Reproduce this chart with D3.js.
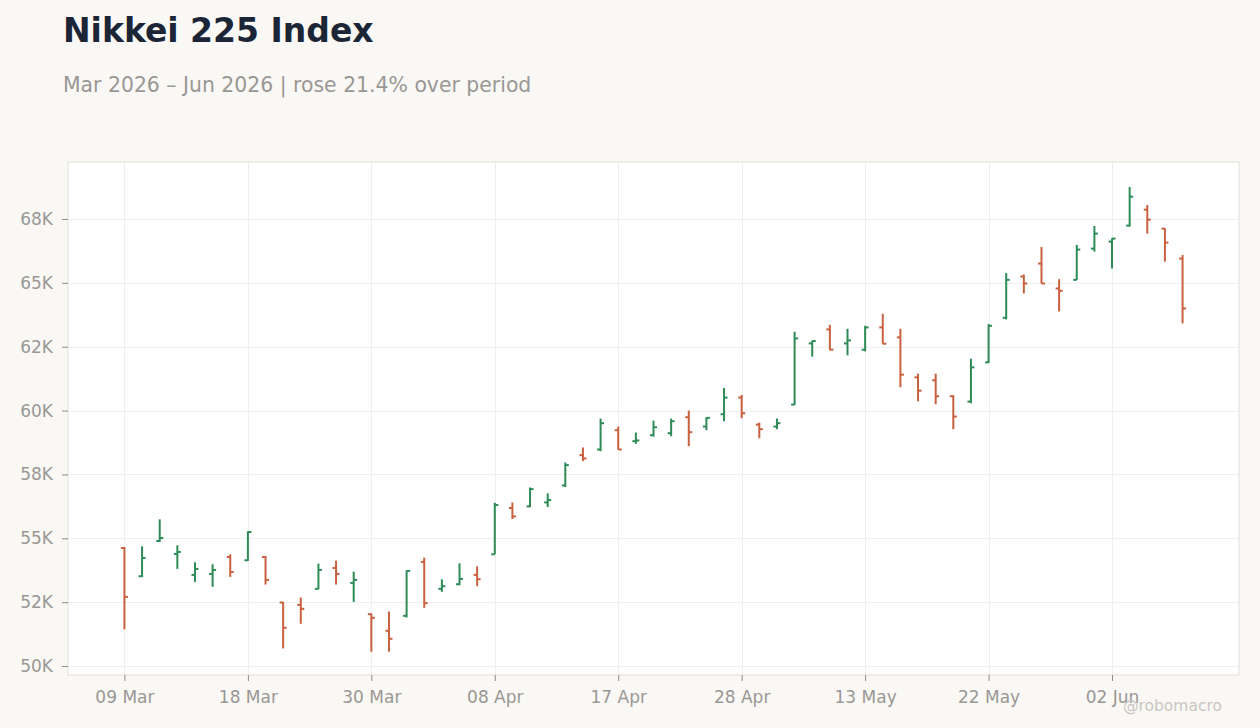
<!DOCTYPE html>
<html>
<head>
<meta charset="utf-8">
<script src="https://cdn.jsdelivr.net/npm/d3@7"></script>
<style>
  html, body { margin: 0; padding: 0; background: #f9f8f5; }
  svg { display: block; font-family: "DejaVu Sans", sans-serif; }
</style>
</head>
<body>
<svg id="chart" width="1260" height="728"></svg>
<script>
const dates = [
  "2026-03-09","2026-03-10","2026-03-11","2026-03-12","2026-03-13","2026-03-16","2026-03-17","2026-03-18",
  "2026-03-19","2026-03-23","2026-03-24","2026-03-25","2026-03-26","2026-03-27","2026-03-30","2026-03-31",
  "2026-04-01","2026-04-02","2026-04-03","2026-04-06","2026-04-07","2026-04-08","2026-04-09","2026-04-10",
  "2026-04-13","2026-04-14","2026-04-15","2026-04-16","2026-04-17","2026-04-20","2026-04-21","2026-04-22",
  "2026-04-23","2026-04-24","2026-04-27","2026-04-28","2026-04-30","2026-05-01","2026-05-07","2026-05-08",
  "2026-05-11","2026-05-12","2026-05-13","2026-05-14","2026-05-15","2026-05-18","2026-05-19","2026-05-20",
  "2026-05-21","2026-05-22","2026-05-25","2026-05-26","2026-05-27","2026-05-28","2026-05-29","2026-06-01",
  "2026-06-02","2026-06-03","2026-06-04","2026-06-05","2026-06-08"
];
const openV = [
  54620,53516,54896,54388,53568,53607,54271,54141,54271,52487,
  52396,53021,53841,53255,52031,51380,51966,54076,53021,53203,
  53568,54375,56185,56250,56406,57070,58255,58477,59232,58802,
  59036,59115,59740,59375,59857,60508,59453,59375,60234,62630,
  63177,62630,62383,63255,62865,61302,61185,60560,60352,61888,
  63633,65247,65755,64778,65117,66341,66615,67240,67865,67122,
  65950
];
const highV = [
  54660,54688,55742,54727,54063,53984,54375,55273,54310,52513,
  52682,54010,54128,53698,52057,52135,53750,54245,53398,54023,
  53906,56393,56406,56992,56758,57969,58555,59688,59375,59141,
  59609,59688,60000,59740,60885,60612,59531,59688,63086,62734,
  63359,63203,63320,63789,63203,61445,61445,60599,62031,63385,
  65391,65326,66406,65143,66484,67227,66745,68750,68047,67135,
  66094
];
const lowV = [
  51434,53490,54857,53802,53294,53099,53490,54115,53190,50690,
  51654,53008,53190,52513,50560,50560,51901,52279,52904,53164,
  53125,54375,55755,56224,56224,57005,58021,58411,58477,58698,
  58984,58997,58607,59232,59583,59701,58919,59271,60221,62109,
  62370,62161,62318,62617,60911,60365,60247,59271,60286,61862,
  63568,64583,64974,63880,65117,66224,65560,67200,66927,65833,
  63411
];
const closeV = [
  52707,54232,55013,54466,53802,53763,53685,55247,53372,51497,
  52240,53763,53607,53372,51888,51068,53724,52461,53125,53411,
  53398,56302,55859,56927,56497,57865,58125,59505,58477,58830,
  59349,59583,59154,59714,60508,59896,59271,59505,62826,62721,
  62383,62747,63255,62617,61406,60781,60560,59766,61693,63320,
  65117,64974,64974,64688,66302,66927,66732,68372,67474,66576,
  63997
];
const yTickValues = [50000, 52500, 55000, 57500, 60000, 62500, 65000, 67500];
const yTickLabels = ["50K", "52K", "55K", "58K", "60K", "62K", "65K", "68K"];
const xTickEvery = 7;

const titleText = "Nikkei 225 Index";
const pct = (closeV[closeV.length - 1] / closeV[0] - 1) * 100;
const subtitleText = "Mar 2026 \u2013 Jun 2026 | rose " + pct.toFixed(1) + "% over period";

const parse = d3.timeParse("%Y-%m-%d");
const fmt = d3.timeFormat("%d %b");
const bars = dates.map((d, i) => ({
  date: d, open: openV[i], high: highV[i], low: lowV[i], close: closeV[i]
}));

const W = 1260, H = 728;
const plot = { left: 68, right: 1239, top: 162, bottom: 675 };
const UP = "#2e8b57", DOWN = "#c9603f";

const svg = d3.select("#chart");
svg.append("rect").attr("width", W).attr("height", H).attr("fill", "#f9f8f5");

svg.append("text").attr("x", 63).attr("y", 42)
  .attr("font-size", 33).attr("font-weight", "bold").attr("fill", "#1b2535")
  .text(titleText);
svg.append("text").attr("x", 63).attr("y", 92)
  .attr("font-size", 20.4).attr("fill", "#9a9794")
  .text(subtitleText);

const x = d3.scalePoint().domain(dates).range([plot.left, plot.right]).padding(3.2);
const y = d3.scaleLinear().domain([49650, 69730]).range([plot.bottom, plot.top]);

svg.append("rect")
  .attr("x", plot.left).attr("y", plot.top)
  .attr("width", plot.right - plot.left).attr("height", plot.bottom - plot.top)
  .attr("fill", "#ffffff").attr("stroke", "#e2ddd7").attr("stroke-width", 1);

const xTicks = dates.filter((d, i) => i % xTickEvery === 0);

const grid = svg.append("g").attr("stroke", "#efefef").attr("stroke-width", 1);
grid.selectAll("line.h").data(yTickValues).join("line").attr("class", "h")
  .attr("x1", plot.left).attr("x2", plot.right)
  .attr("y1", d => Math.round(y(d)) + 0.5).attr("y2", d => Math.round(y(d)) + 0.5);
grid.selectAll("line.v").data(xTicks).join("line").attr("class", "v")
  .attr("y1", plot.top).attr("y2", plot.bottom)
  .attr("x1", d => Math.round(x(d)) + 0.5).attr("x2", d => Math.round(x(d)) + 0.5);

// axes
const yAxis = d3.axisLeft(y).tickValues(yTickValues)
  .tickFormat((d, i) => yTickLabels[i]).tickSize(6).tickPadding(9);
const gy = svg.append("g").attr("transform", `translate(${plot.left},0)`).call(yAxis);
gy.select(".domain").remove();
gy.selectAll(".tick line").attr("stroke", "#8f8b87");
gy.selectAll(".tick text").attr("fill", "#9a9794").attr("font-size", 17)
  .attr("font-family", "DejaVu Sans, sans-serif");

const xAxis = d3.axisBottom(x).tickValues(xTicks)
  .tickFormat(d => fmt(parse(d))).tickSize(6).tickPadding(10);
const gx = svg.append("g").attr("transform", `translate(0,${plot.bottom})`).call(xAxis);
gx.select(".domain").remove();
gx.selectAll(".tick line").attr("stroke", "#8f8b87");
gx.selectAll(".tick text").attr("fill", "#9a9794").attr("font-size", 17)
  .attr("font-family", "DejaVu Sans, sans-serif");

// OHLC bars
const tick = 3.5;
const gb = svg.append("g").attr("stroke-width", 2).attr("fill", "none");
const b = gb.selectAll("g.bar").data(bars).join("g").attr("class", "bar")
  .attr("stroke", d => d.close >= d.open ? UP : DOWN);
b.append("line")
  .attr("x1", d => x(d.date)).attr("x2", d => x(d.date))
  .attr("y1", d => y(d.high)).attr("y2", d => y(d.low));
b.append("line")
  .attr("x1", d => x(d.date) - tick).attr("x2", d => x(d.date))
  .attr("y1", d => y(d.open)).attr("y2", d => y(d.open));
b.append("line")
  .attr("x1", d => x(d.date)).attr("x2", d => x(d.date) + tick)
  .attr("y1", d => y(d.close)).attr("y2", d => y(d.close));

svg.append("text").attr("x", 1222).attr("y", 711).attr("text-anchor", "end")
  .attr("font-size", 15.5).attr("fill", "#c9c6c2")
  .text("@robomacro");
</script>
</body>
</html>
